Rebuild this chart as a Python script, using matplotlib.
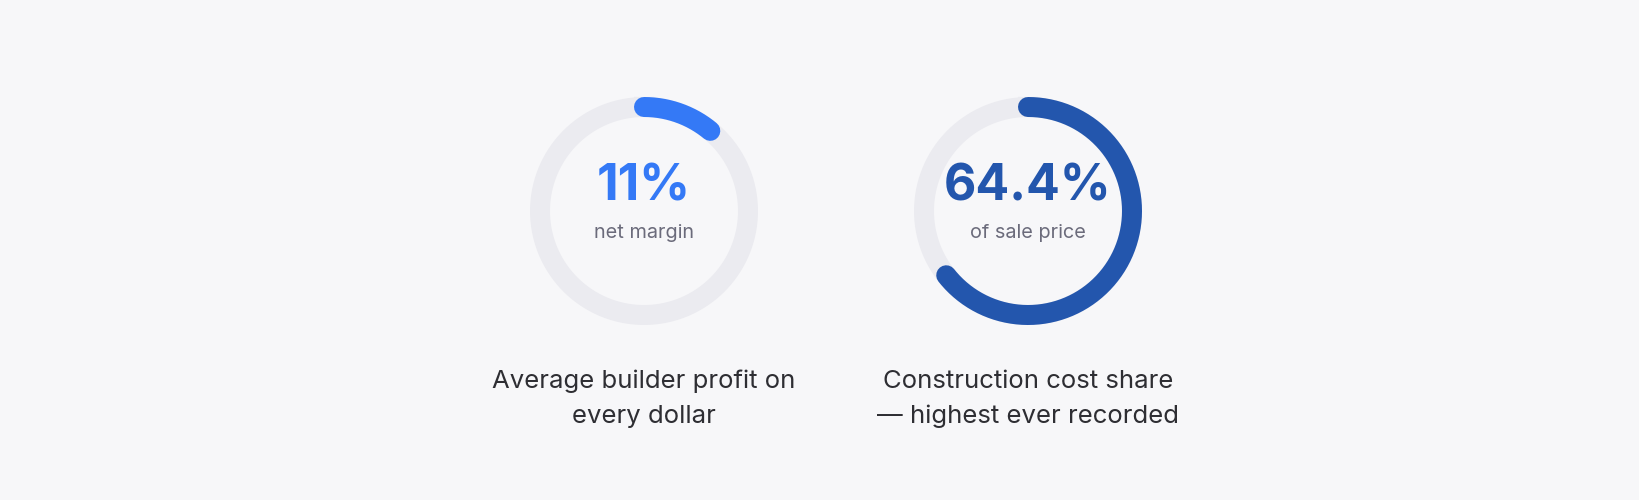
import numpy as np
import matplotlib.pyplot as plt

plt.rcParams['font.family'] = ['Inter', 'DejaVu Sans']

# data
values = [11, 64.4]
value_labels = ["11%", "64.4%"]
subtitles = ["net margin", "of sale price"]
captions = ["Average builder profit on\nevery dollar",
            "Construction cost share\n\u2014 highest ever recorded"]
colors = ["#3479F6", "#2356AD"]

BG = "#F7F7F9"
TRACK = "#EBEBF0"
centers_x = [644, 1028]
cy = 211
r = 104
lw = 20 * 72 / 100  # 20 px ring

fig = plt.figure(figsize=(16.4, 5), dpi=100, facecolor=BG)
ax = fig.add_axes([0, 0, 1, 1])
ax.set_facecolor(BG)
ax.set_xlim(0, 1640)
ax.set_ylim(500, 0)
ax.axis("off")

for cx, v, vl, sub, cap, col in zip(centers_x, values, value_labels,
                                     subtitles, captions, colors):
    t = np.linspace(0, 2 * np.pi, 400)
    ax.plot(cx + r * np.sin(t), cy - r * np.cos(t), color=TRACK, lw=lw)
    t = np.linspace(0, v / 100 * 2 * np.pi, 400)
    ax.plot(cx + r * np.sin(t), cy - r * np.cos(t), color=col, lw=lw,
            solid_capstyle="round")
    ax.text(cx, 187, vl, ha="center", va="center", fontsize=36,
            fontweight="bold", color=col)
    ax.text(cx, 233, sub, ha="center", va="center", fontsize=14.3,
            color="#6B6B7B")
    ax.text(cx, 399, cap, ha="center", va="center", fontsize=18.5,
            color="#2E2E33", linespacing=1.65)

fig.savefig("out.png", dpi=100, facecolor=BG)
